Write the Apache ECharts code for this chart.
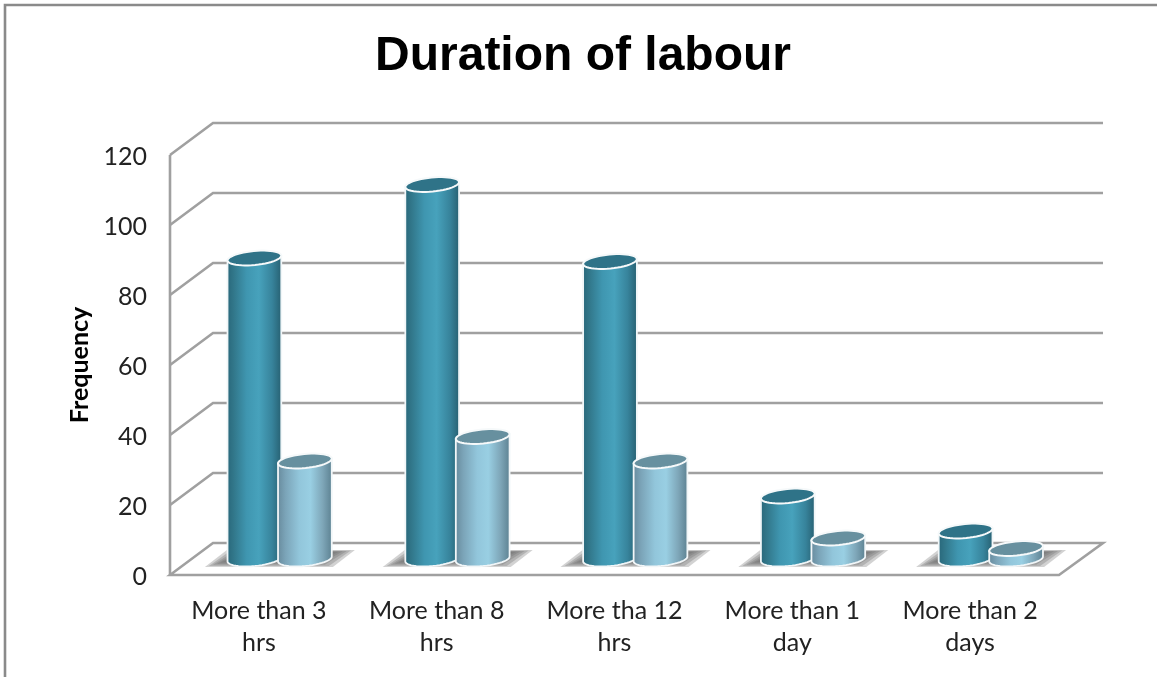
<!DOCTYPE html>
<html>
<head>
<meta charset="utf-8">
<style>html,body{margin:0;padding:0;background:#fff}#chart{width:1157px;height:677px}</style>
<script src="https://cdn.jsdelivr.net/npm/echarts@6/dist/echarts.min.js"></script>
</head>
<body>
<div id="chart"></div>
<script>
// Labour duration frequencies, drawn as paired 3D-style cylinders
const categories = ['More than 3 hrs', 'More than 8 hrs', 'More tha 12 hrs', 'More than 1 day', 'More than 2 days'];
const seriesDark = [86, 107, 85, 18, 8];
const seriesLight = [28, 35, 28, 6, 3];
const yTicks = [0, 20, 40, 60, 80, 100, 120];

// Oblique projection of the chart box
const DEPTH_X = 43, DEPTH_Y = -32;
const WALL = '#a0a0a0';
const BAR_W = 54, RY = 7, TILT = -5.5 * Math.PI / 180;
const MID_DEPTH_Y = DEPTH_Y / 2;

function ellipsePoint(cx, cy, rx, ry, t) {
  const x = rx * Math.cos(t), y = ry * Math.sin(t);
  return [cx + x * Math.cos(TILT) - y * Math.sin(TILT), cy + x * Math.sin(TILT) + y * Math.cos(TILT)];
}

function ramp(stops) {
  return { type: 'linear', x: 0, y: 0, x2: 1, y2: 0,
    colorStops: stops.map(s => ({ offset: s[0], color: s[1] })) };
}

const darkSide = ramp([[0, '#286679'], [0.12, '#317689'], [0.36, '#3f96b0'], [0.58, '#47a2bc'], [0.82, '#37839b'], [1, '#265e6f']]);
const lightSide = ramp([[0, '#66899b'], [0.15, '#7ba4b8'], [0.4, '#92c6db'], [0.6, '#99cfe3'], [0.82, '#7ea6b8'], [1, '#5a7f8f']]);

function cylinder(offsetX, side, cap) {
  return function (params, api) {
    const i = api.value(0);
    const base = api.coord([i, 0]);
    const top = api.coord([i, api.value(1)]);
    const cx = base[0] + offsetX;
    const by = base[1] + MID_DEPTH_Y, ty = top[1] + MID_DEPTH_Y;
    const rx = BAR_W / 2;
    const pts = [];
    pts.push(ellipsePoint(cx, ty, rx, RY, Math.PI));
    for (let k = 0; k <= 24; k++) {
      pts.push(ellipsePoint(cx, by, rx, RY, Math.PI - Math.PI * k / 24));
    }
    pts.push(ellipsePoint(cx, ty, rx, RY, 0));
    const capPts = [];
    for (let k = 0; k < 48; k++) {
      capPts.push(ellipsePoint(cx, ty, rx, RY, 2 * Math.PI * k / 48));
    }
    return {
      type: 'group',
      children: [
        { type: 'polygon', shape: { points: pts }, style: { fill: side, stroke: '#f1f6f8', lineWidth: 1.8 } },
        { type: 'polygon', shape: { points: capPts }, style: { fill: cap, stroke: '#f6f9fa', lineWidth: 2 } }
      ]
    };
  };
}

function renderWall(params, api) {
  const p = api.coord([0, api.value(1)]);
  const g = params.coordSys;
  const y = p[1], left = g.x, right = g.x + g.width;
  const line = { stroke: WALL, lineWidth: 2.6, fill: null };
  if (api.value(1) === 0) {
    return {
      type: 'polygon',
      shape: { points: [[left, y], [left + DEPTH_X, y + DEPTH_Y], [right + DEPTH_X + 1, y + DEPTH_Y], [right, y]] },
      style: line
    };
  }
  return {
    type: 'polyline',
    shape: { points: [[left, y], [left + DEPTH_X, y + DEPTH_Y], [right + DEPTH_X + 1, y + DEPTH_Y]] },
    style: line
  };
}

function renderLeftEdge(params, api) {
  const g = params.coordSys;
  return {
    type: 'line',
    shape: { x1: g.x, y1: g.y, x2: g.x, y2: g.y + g.height },
    style: { stroke: WALL, lineWidth: 2.6 }
  };
}

// Soft cast shadow on the floor, built from nested translucent layers
function renderFloorShadow(params, api) {
  const b = api.coord([api.value(0), 0]);
  const x = b[0], y = b[1];
  const layers = [];
  for (let n = 0; n < 6; n++) {
    const ix = n * 4, iy = n * 1.1;
    layers.push({
      type: 'polygon',
      shape: { points: [
        [x - 54 + ix, y - 8 - iy], [x - 32 + ix, y - 25 + iy * 0.4],
        [x + 96 - ix, y - 25 + iy * 0.4], [x + 74 - ix, y - 8 - iy]
      ] },
      style: { fill: 'rgba(105,105,105,0.3)' }
    });
  }
  return { type: 'group', children: layers };
}

const chart = echarts.init(document.getElementById('chart'), null, { renderer: 'canvas' });
chart.setOption({
  animation: false,
  backgroundColor: '#ffffff',
  title: {
    text: 'Duration of labour',
    left: 578, top: 28, textAlign: 'center',
    textStyle: { fontFamily: 'Liberation Sans', fontWeight: 'bold', fontSize: 48, color: '#000' }
  },
  graphic: [
    { type: 'polyline', silent: true, shape: { points: [[5, 677], [5, 5], [1157, 5]] },
      style: { stroke: '#8a8a8a', lineWidth: 2.6, fill: null } }
  ],
  grid: { left: 170, right: 98, top: 155, bottom: 102, containLabel: false },
  xAxis: {
    type: 'category', data: categories,
    axisLine: { show: false }, axisTick: { show: false }, splitLine: { show: false },
    axisLabel: {
      interval: 0, margin: 20, lineHeight: 32,
      // the last word of each category wraps onto its own line
      formatter: v => v.replace(/ (\S+)$/, '\n$1'),
      fontFamily: 'Lato', fontSize: 25, color: '#222222'
    }
  },
  yAxis: {
    type: 'value', min: 0, max: 120, interval: 20,
    name: 'Frequency', nameLocation: 'middle', nameGap: 78, nameRotate: 90,
    nameTextStyle: { fontFamily: 'Lato', fontWeight: 'bold', fontSize: 25, color: '#000' },
    axisLine: { show: false }, axisTick: { show: false }, splitLine: { show: false },
    axisLabel: {
      margin: 23, formatter: '{t|{value}}',
      rich: { t: { padding: [4, 0, 0, 0], fontFamily: 'Lato', fontSize: 25, color: '#222222' } }
    }
  },
  series: [
    { type: 'custom', renderItem: renderWall, clip: false, z: 1, silent: true,
      data: yTicks.map(t => [0, t]), encode: { x: 0, y: 1 } },
    { type: 'custom', renderItem: renderLeftEdge, clip: false, z: 1, silent: true,
      data: [[0, 0]], encode: { x: 0, y: 1 } },
    { type: 'custom', renderItem: renderFloorShadow, clip: false, z: 2, silent: true,
      data: categories.map((c, i) => [i, 0]), encode: { x: 0, y: 1 } },
    { type: 'custom', name: 'Series 1', renderItem: cylinder(-4.5, darkSide, '#2f7388'), clip: false, z: 3,
      data: seriesDark.map((v, i) => [i, v]), encode: { x: 0, y: 1 } },
    { type: 'custom', name: 'Series 2', renderItem: cylinder(46, lightSide, '#67909f'), clip: false, z: 4,
      data: seriesLight.map((v, i) => [i, v]), encode: { x: 0, y: 1 } }
  ]
});
</script>
</body>
</html>
